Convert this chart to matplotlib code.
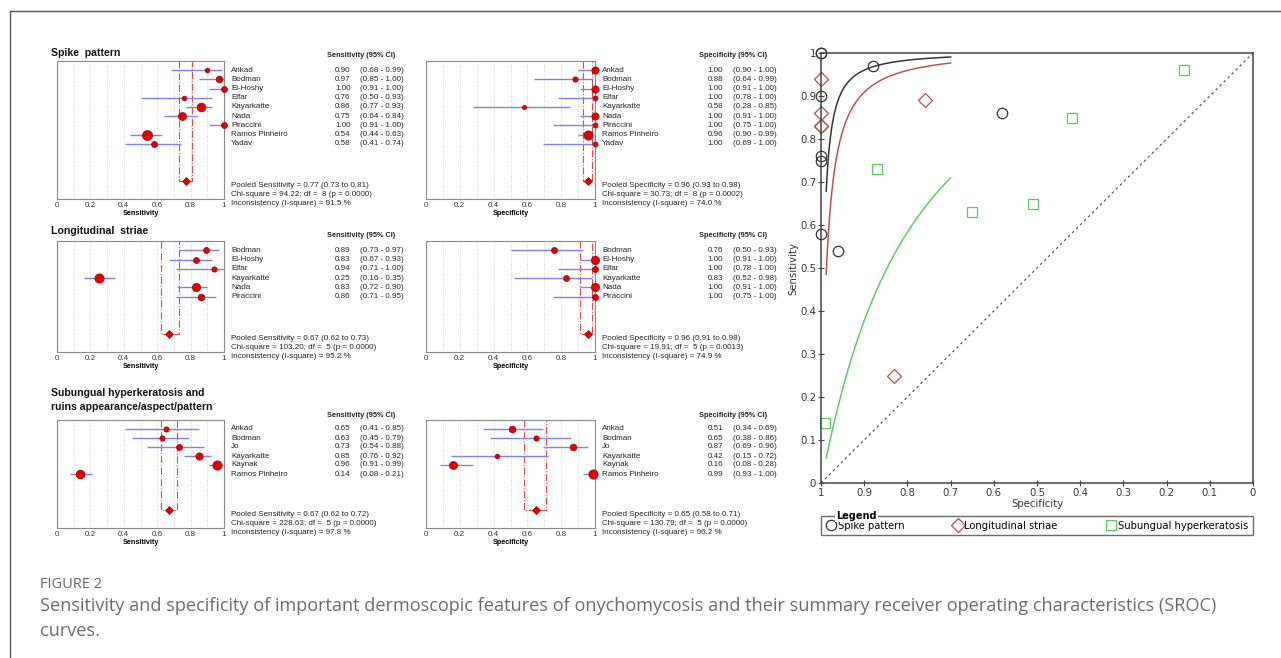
import matplotlib
matplotlib.use("Agg")
import matplotlib.pyplot as plt
from matplotlib.lines import Line2D
import numpy as np

W, H = 1281, 658

# ---- data ----
# spike pattern
spike_names = ["Ankad", "Bodman", "El-Hoshy", "Elfar", "Kayarkatte", "Nada",
               "Piraccini", "Ramos Pinheiro", "Yadav"]
spike_sens = [0.90, 0.97, 1.00, 0.76, 0.86, 0.75, 1.00, 0.54, 0.58]
spike_sens_lo = [0.68, 0.85, 0.91, 0.50, 0.77, 0.64, 0.91, 0.44, 0.41]
spike_sens_hi = [0.99, 1.00, 1.00, 0.93, 0.93, 0.84, 1.00, 0.63, 0.74]
spike_sens_wt = [22, 45, 36, 22, 76, 64, 36, 100, 36]
spike_spec = [1.00, 0.88, 1.00, 1.00, 0.58, 1.00, 1.00, 0.96, 1.00]
spike_spec_lo = [0.90, 0.64, 0.91, 0.78, 0.28, 0.91, 0.75, 0.90, 0.69]
spike_spec_hi = [1.00, 0.99, 1.00, 1.00, 0.85, 1.00, 1.00, 0.99, 1.00]
spike_spec_wt = [53, 28, 53, 25, 18, 53, 25, 86, 25]
spike_sens_pool = (0.77, 0.73, 0.81, 94.22, 8, 0.0000, 91.5)
spike_spec_pool = (0.96, 0.93, 0.98, 30.73, 8, 0.0002, 74.0)

# longitudinal striae
long_names = ["Bodman", "El-Hoshy", "Elfar", "Kayarkatte", "Nada", "Piraccini"]
long_sens = [0.89, 0.83, 0.94, 0.25, 0.83, 0.86]
long_sens_lo = [0.73, 0.67, 0.71, 0.16, 0.72, 0.71]
long_sens_hi = [0.97, 0.93, 1.00, 0.35, 0.90, 0.95]
long_sens_wt = [36, 36, 28, 86, 69, 45]
long_spec = [0.76, 1.00, 1.00, 0.83, 1.00, 1.00]
long_spec_lo = [0.50, 0.91, 0.78, 0.52, 0.91, 0.75]
long_spec_hi = [0.93, 1.00, 1.00, 0.98, 1.00, 1.00]
long_spec_wt = [36, 69, 36, 36, 69, 36]
long_sens_pool = (0.67, 0.62, 0.73, 103.20, 5, 0.0000, 95.2)
long_spec_pool = (0.96, 0.91, 0.98, 19.91, 5, 0.0013, 74.9)

# subungual hyperkeratosis and ruins appearance
sub_names = ["Ankad", "Bodman", "Jo", "Kayarkatte", "Kaynak", "Ramos Pinheiro"]
sub_sens = [0.65, 0.63, 0.73, 0.85, 0.96, 0.14]
sub_sens_lo = [0.41, 0.45, 0.54, 0.76, 0.91, 0.08]
sub_sens_hi = [0.85, 0.79, 0.88, 0.92, 0.99, 0.21]
sub_sens_wt = [28, 28, 36, 53, 86, 76]
sub_spec = [0.51, 0.65, 0.87, 0.42, 0.16, 0.99]
sub_spec_lo = [0.34, 0.38, 0.69, 0.15, 0.08, 0.93]
sub_spec_hi = [0.69, 0.86, 0.96, 0.72, 0.28, 1.00]
sub_spec_wt = [45, 28, 45, 22, 64, 86]
sub_sens_pool = (0.67, 0.62, 0.72, 228.63, 5, 0.0000, 97.8)
sub_spec_pool = (0.65, 0.58, 0.71, 130.79, 5, 0.0000, 96.2)

# SROC fit: logit(sens) = a + b * logit(1 - spec)
sroc_a = [5.6, 4.64, 1.77]
sroc_b = [1.1, 1.065, 1.034]

FOREST_FONT = "Liberation Sans"


def px_rect(left, top, right, bottom):
    return [left / W, 1 - bottom / H, (right - left) / W, (bottom - top) / H]


def forest(rect, names, est, lo, hi, wt, pool, label):
    ax = fig.add_axes(px_rect(*rect))
    n = len(names)
    rows = np.arange(1, n + 1)
    ax.set_xlim(0, 1)
    ax.set_ylim(n + 6, 0)
    for g in np.arange(0.1, 0.95, 0.1):
        ax.axvline(g, color="#c4c4c4", lw=0.6, ls=(0, (1, 2)), zorder=0)
    ax.hlines(rows, lo, hi, color="#8080ea", lw=1.0, zorder=2)
    for r, e, w in zip(rows, est, wt):
        ax.plot(e, r, "o", ms=np.sqrt(w) * 0.72, mfc="#e30000", mec="#a00000",
                mew=0.5, zorder=3, clip_on=False)
    pe, pl, ph, chi, df, p, i2 = pool
    ax.plot([pl, pl, ph, ph], [0, n + 4, n + 4, 0], color="#e04848", lw=0.8,
            ls="-.", zorder=1)
    ax.plot(pe, n + 4, "D", ms=4, mfc="#e30000", mec="#a00000", mew=0.5, zorder=3)

    ax.set_xticks([0, 0.2, 0.4, 0.6, 0.8, 1])
    ax.set_xticklabels(["0", "0.2", "0.4", "0.6", "0.8", "1"], family=FOREST_FONT)
    ax.tick_params(axis="x", length=0, pad=2.5, labelsize=5.8, labelcolor="#333")
    ax.set_yticks([])
    ax.set_xlabel(label, fontsize=5.2, fontweight="bold", labelpad=0.5,
                  family=FOREST_FONT)
    for s in ax.spines.values():
        s.set_color("#888")
        s.set_linewidth(0.8)

    tr = ax.get_yaxis_transform()
    kw = dict(transform=tr, va="center", family=FOREST_FONT, color="#222")
    ax.text(1.615, -0.55, f"{label} (95% CI)", fontweight="bold", fontsize=5.3, **kw)
    for r, name, e, l, h in zip(rows, names, est, lo, hi):
        ax.text(1.042, r, name, fontsize=5.8, **kw)
        ax.text(1.665, r, f"{e:.2f}", fontsize=5.8, **kw)
        ax.text(1.814, r, f"({l:.2f} - {h:.2f})", fontsize=5.8, **kw)
    ax.text(1.042, n + 4.5, f"Pooled {label} = {pe:.2f} ({pl:.2f} to {ph:.2f})",
            fontsize=5.8, **kw)
    ax.text(1.042, n + 5.5, f"Chi-square = {chi:.2f}; df =  {df} (p = {p:.4f})",
            fontsize=5.8, **kw)
    ax.text(1.042, n + 6.5, f"Inconsistency (I-square) = {i2:.1f} %", fontsize=5.8, **kw)
    return ax


fig = plt.figure(figsize=(W / 100, H / 100), dpi=100)

# frame around the figure
fig.add_artist(Line2D([10 / W, 1], [1 - 11 / H, 1 - 11 / H], transform=fig.transFigure,
                      color="#555", lw=1))
fig.add_artist(Line2D([10 / W, 10 / W], [1 - 11 / H, 0], transform=fig.transFigure,
                      color="#555", lw=1))

forest((57, 61, 224, 199), spike_names, spike_sens, spike_sens_lo, spike_sens_hi,
       spike_sens_wt, spike_sens_pool, "Sensitivity")
forest((426, 61, 595, 199), spike_names, spike_spec, spike_spec_lo, spike_spec_hi,
       spike_spec_wt, spike_spec_pool, "Specificity")
forest((57, 241, 224, 352), long_names, long_sens, long_sens_lo, long_sens_hi,
       long_sens_wt, long_sens_pool, "Sensitivity")
forest((426, 241, 595, 352), long_names, long_spec, long_spec_lo, long_spec_hi,
       long_spec_wt, long_spec_pool, "Specificity")
forest((57, 420, 224, 528), sub_names, sub_sens, sub_sens_lo, sub_sens_hi,
       sub_sens_wt, sub_sens_pool, "Sensitivity")
forest((426, 420, 595, 528), sub_names, sub_spec, sub_spec_lo, sub_spec_hi,
       sub_spec_wt, sub_spec_pool, "Specificity")

tkw = dict(fontsize=7.6, fontweight="bold", family=FOREST_FONT, va="center", color="#111")
fig.text(51 / W, 1 - 53 / H, "Spike  pattern", **tkw)
fig.text(51 / W, 1 - 231 / H, "Longitudinal  striae", **tkw)
fig.text(51 / W, 1 - 393 / H, "Subungual hyperkeratosis and", **tkw)
fig.text(51 / W, 1 - 407 / H, "ruins appearance/aspect/pattern", **tkw)

# ---- SROC ----
ax = fig.add_axes(px_rect(821, 53, 1253, 483))
ax.set_xlim(1, 0)
ax.set_ylim(0, 1)
ax.plot([1, 0], [0, 1], color="#555", lw=0.9, ls=(0, (2, 2.5)))

spec_grid = np.linspace(0.70, 0.988, 200)
fpr = 1 - spec_grid
curve_colors = ["#333333", "#c0504d", "#5fcc5f"]
for a, b, col in zip(sroc_a, sroc_b, curve_colors):
    lg = a + b * np.log(fpr / (1 - fpr))
    ax.plot(spec_grid, 1 / (1 + np.exp(-lg)), color=col, lw=1.1)

h1, = ax.plot(spike_spec, spike_sens, "o", ls="none", ms=7.5, mfc="none", mec="#333",
              mew=0.9, clip_on=False, label="Spike pattern")
h2, = ax.plot(long_spec, long_sens, "D", ls="none", ms=7, mfc="none", mec="#b94a48",
              mew=0.9, clip_on=False, label="Longitudinal striae")
h3, = ax.plot(sub_spec, sub_sens, "s", ls="none", ms=7, mfc="none", mec="#5cc85c",
              mew=0.9, clip_on=False, label="Subungual hyperkeratosis")

ticks = np.round(np.arange(0, 1.01, 0.1), 1)
labels = ["0" if t == 0 else ("1" if t == 1 else f"{t:.1f}") for t in ticks]
ax.set_xticks(ticks)
ax.set_xticklabels(labels)
ax.set_yticks(ticks)
ax.set_yticklabels(labels)
ax.tick_params(direction="inout", length=5, width=0.8, color="#444",
               labelsize=7.3, labelcolor="#333", pad=1)
for s in ax.spines.values():
    s.set_color("#444")
    s.set_linewidth(1.1)
ax.set_xlabel("Specificity", fontsize=7.3, color="#333", labelpad=1)
ax.set_ylabel("Sensitivity", fontsize=7.3, color="#333", labelpad=1)

leg = ax.legend(handles=[h1, h2, h3], loc="upper left", bbox_to_anchor=(0, -0.077, 1, 0),
                mode="expand", ncol=3, frameon=True, fancybox=False, fontsize=7.2,
                borderpad=0.45, handletextpad=0.2, handlelength=1.0, borderaxespad=0)
leg.get_frame().set_edgecolor("#444")
leg.get_frame().set_linewidth(1.0)
leg.set_zorder(4)
ax.text(0.035, -0.077, "Legend", transform=ax.transAxes, fontsize=7, fontweight="bold",
        va="center", ha="left", zorder=10,
        bbox=dict(facecolor="white", edgecolor="none", pad=0.8))

# ---- caption ----
fig.text(40 / W, 1 - 584 / H, "FIGURE 2", fontsize=10.5, family="Open Sans",
         color="#666", va="center")
fig.text(40 / W, 1 - 606 / H,
         "Sensitivity and specificity of important dermoscopic features of onychomycosis "
         "and their summary receiver operating characteristics (SROC)",
         fontsize=13.1, family="Open Sans", color="#6a6a6a", va="center")
fig.text(40 / W, 1 - 631 / H, "curves.", fontsize=13.1, family="Open Sans",
         color="#6a6a6a", va="center")

fig.savefig("out.png", dpi=100)
